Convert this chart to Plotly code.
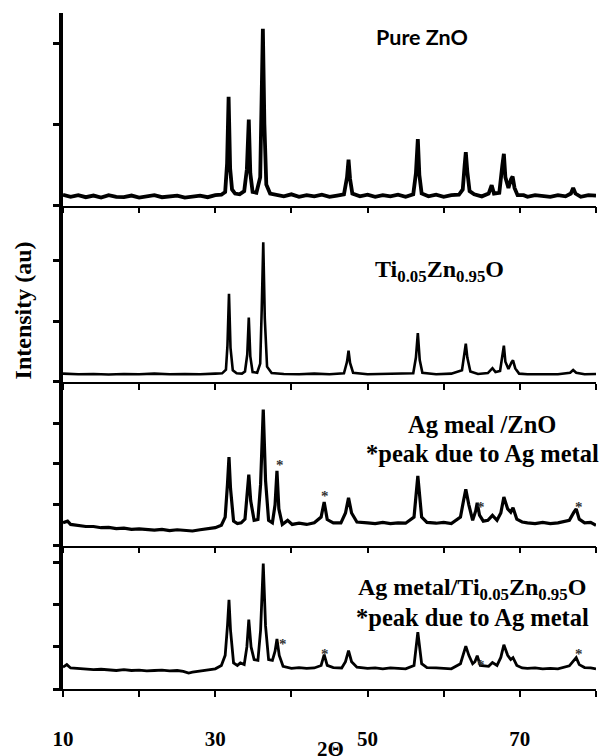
import plotly.graph_objects as go

# ---------------- data (2-theta, intensity in arbitrary units) ----------------
zno_2theta = [10, 11, 12, 13, 14, 15, 16, 17, 18, 19, 20, 21, 22, 23, 24, 25, 26, 27, 28, 29, 30,
              30.8, 31.3, 31.55, 31.75, 31.95, 32.2, 32.6, 33.2, 33.8, 34.15, 34.4, 34.6, 34.9,
              35.4, 35.9, 36.1, 36.25, 36.45, 36.7, 37.2, 38, 39, 40, 41, 42, 43, 44, 45, 46,
              46.9, 47.3, 47.5, 47.7, 48, 49, 50, 51, 52, 53, 54, 55, 56, 56.35, 56.6, 56.8, 57.1,
              58, 59, 60, 61, 62, 62.5, 62.75, 62.9, 63.1, 63.4, 64, 65, 65.9, 66.3, 66.6, 67.3,
              67.7, 67.9, 68.1, 68.5, 68.85, 69.05, 69.3, 69.7, 70.5, 71, 72, 73, 74, 75, 76,
              76.7, 77, 77.3, 78, 79, 80]
zno_int = [135, 110, 130, 105, 125, 100, 130, 110, 105, 125, 100, 120, 130, 105, 115, 125, 100, 115, 125, 105, 130,
           135, 170, 520, 1340, 460, 200, 150, 140, 180, 450, 1060, 400, 170,
           160, 350, 1200, 2180, 1000, 260, 150, 130, 115, 140, 110, 130, 115, 135, 110, 125,
           140, 350, 566, 330, 150, 115, 135, 110, 130, 115, 135, 110, 140, 400, 820, 380, 150,
           115, 135, 110, 130, 135, 200, 500, 660, 420, 180, 140, 115, 150, 253, 150, 160,
           500, 640, 350, 220, 330, 360, 220, 130, 130, 110, 130, 115, 110, 130, 115,
           150, 217, 150, 110, 130, 125]

tizno_2theta = [10, 12, 14, 16, 18, 20, 22, 24, 26, 28, 30, 30.9, 31.4, 31.6, 31.8, 32.0, 32.3, 32.8,
                33.5, 33.9, 34.2, 34.4, 34.6, 34.9, 35.5, 35.9, 36.1, 36.3, 36.5, 36.8, 37.4, 39,
                41, 43, 45, 46.9, 47.3, 47.5, 47.7, 48.1, 50, 52, 54, 56, 56.35, 56.6, 56.85, 57.2,
                59, 61, 62.4, 62.7, 62.9, 63.1, 63.5, 64.5, 65.8, 66.4, 66.8, 67.4, 67.7, 67.9, 68.1,
                68.5, 68.9, 69.1, 69.4, 69.9, 71, 73, 75, 76.6, 77.0, 77.4, 78.5, 80]
tizno_int = [135, 125, 130, 120, 130, 125, 135, 125, 130, 125, 135, 140, 200, 600, 1450, 560, 190, 140,
             135, 170, 450, 1060, 420, 160, 150, 300, 1200, 2300, 1050, 250, 145, 130,
             125, 135, 125, 140, 330, 515, 310, 150, 125, 130, 125, 140, 400, 805, 360, 150,
             125, 135, 190, 480, 630, 400, 170, 130, 145, 225, 160, 180, 470, 595, 330,
             210, 320, 355, 220, 135, 125, 130, 125, 150, 195, 150, 125, 130]

agzno_2theta = [10, 10.6, 11, 12, 13, 14, 15, 16, 17, 18, 19, 20, 21, 22, 23, 24, 25, 26, 27, 28, 29, 30,
                30.8, 31.3, 31.6, 31.8, 32.0, 32.4, 32.9, 33.4, 33.9, 34.2, 34.4, 34.65, 35.1, 35.6,
                35.95, 36.3, 36.6, 37.0, 37.5, 37.85, 38.1, 38.35, 38.8, 39.5, 40.1, 41, 42, 43,
                43.9, 44.3, 44.7, 45.5, 46.5, 47.1, 47.5, 47.9, 48.6, 50, 51, 52, 53, 54, 55, 56.1,
                56.6, 57.1, 57.8, 59, 60, 61, 62.2, 62.6, 62.9, 63.3, 63.8, 64.2, 64.4, 64.7, 65.2,
                65.8, 66.4, 67.0, 67.5, 67.9, 68.4, 68.8, 69.1, 69.6, 70.3, 71, 72, 73, 74, 75,
                76.5, 77.1, 77.4, 77.8, 78.5, 79.3, 80]
agzno_int = [560, 600, 520, 500, 470, 470, 440, 450, 420, 430, 400, 410, 390, 380, 400, 370, 390, 380, 360, 390, 420, 440,
             500, 700, 1500, 2170, 1400, 600, 540, 560, 650, 1200, 1740, 1100, 620, 640,
             1500, 3330, 1600, 620, 560, 1000, 1830, 900, 520, 620, 520, 550, 520, 560,
             700, 1070, 640, 560, 560, 800, 1170, 800, 580, 560, 540, 570, 540, 560, 550, 700,
             1710, 700, 570, 550, 570, 540, 700, 1100, 1380, 1000, 620, 850, 1050, 750, 600,
             620, 740, 620, 800, 1190, 900, 820, 930, 650, 580, 560, 540, 570, 540, 560,
             620, 820, 900, 650, 560, 570, 500]

agtizno_2theta = [10, 10.5, 11, 12, 13, 14, 15, 16, 17, 18, 19, 20, 21, 22, 23, 24, 25, 25.8, 26.5, 27, 28, 29, 30,
                  30.8, 31.3, 31.6, 31.8, 32.0, 32.4, 32.9, 33.3, 33.8, 34.15, 34.4, 34.7, 35.1, 35.6,
                  35.95, 36.3, 36.6, 37.0, 37.5, 37.85, 38.1, 38.4, 38.9, 40, 41, 42, 43, 43.9,
                  44.3, 44.7, 45.5, 46.6, 47.1, 47.5, 47.9, 48.6, 50, 51, 52, 53, 54, 55, 56.1,
                  56.6, 57.1, 57.8, 59, 60, 61, 62.2, 62.6, 62.9, 63.3, 63.8, 64.1, 64.4, 64.8,
                  65.4, 65.9, 66.4, 67.0, 67.5, 67.9, 68.4, 68.8, 69.1, 69.6, 70.3, 71, 72, 73,
                  74, 75, 76.5, 77.1, 77.4, 77.8, 78.5, 79.3, 80]
agtizno_int = [520, 580, 500, 490, 470, 460, 470, 450, 440, 460, 440, 450, 430, 440, 450, 430, 440, 420, 380, 400, 430, 460, 480,
               560, 800, 1500, 2120, 1400, 620, 560, 620, 580, 1000, 1650, 1000, 700, 680,
               1400, 2980, 1500, 700, 680, 900, 1190, 800, 540, 490, 510, 490, 500, 560,
               815, 560, 510, 500, 650, 910, 650, 520, 490, 500, 480, 500, 490, 480, 560,
               1350, 600, 510, 500, 490, 480, 600, 850, 1020, 800, 600, 650, 790, 560,
               550, 540, 630, 560, 750, 1050, 800, 700, 745, 560, 500, 490, 500, 480,
               490, 480, 550, 700, 745, 580, 510, 500, 480]

panel_x = [zno_2theta, tizno_2theta, agzno_2theta, agtizno_2theta]
panel_y = [zno_int, tizno_int, agzno_int, agtizno_int]

y_ranges = [2373, 2903, 4012, 3407]
y_tickvals = [[0, 1000, 2000], [0, 1000, 2000], [0, 1000, 2000, 3000], [0, 1000, 2000, 3000]]

x_tickvals = [10, 20, 30, 40, 50, 60, 70, 80]
x_ticktext = ["<b>10</b>", "", "<b>30</b>", "", "<b>50</b>", "", "<b>70</b>", ""]

# asterisk markers (Ag metal peaks) per panel: (2theta, intensity)
ag_star_x_p3 = [38.5, 44.4, 64.9, 77.8]
ag_star_y_p3 = [2260, 1500, 1240, 1240]
ag_star_x_p4 = [38.9, 44.4, 64.9, 77.8]
ag_star_y_p4 = [1420, 1190, 930, 1190]

# ---------------- layout geometry ----------------
W, H = 601, 756
ML, MR, MT, MB = 63, 5, 13, 52
PW, PH = W - ML - MR, H - MT - MB


def px_x(px):
    return (px - ML) / PW


def px_y(py):
    return (H - MB - py) / PH


domains = [[px_y(210), 1.0], [px_y(390), px_y(210)], [px_y(557.5), px_y(390)], [0.0, px_y(557.5)]]
line_widths = [3.8, 2.6, 3.2, 2.8]

fig = go.Figure()
for i in range(4):
    sfx = "" if i == 0 else str(i + 1)
    fig.add_trace(go.Scatter(x=panel_x[i], y=panel_y[i], mode="lines",
                             line=dict(color="black", width=line_widths[i]),
                             xaxis="x" + sfx, yaxis="y" + sfx, showlegend=False,
                             hoverinfo="skip"))

serif = "Liberation Serif, Times New Roman, serif"

layout = dict(width=W, height=H, margin=dict(l=ML, r=MR, t=MT, b=MB),
              plot_bgcolor="white", paper_bgcolor="white", showlegend=False)
for i in range(4):
    sfx = "" if i == 0 else str(i + 1)
    layout["xaxis" + sfx] = dict(
        range=[10, 80], anchor="y" + sfx, domain=[0, 1],
        showline=True, linecolor="black", linewidth=1.5,
        ticks="outside", ticklen=6, tickwidth=1.5, tickcolor="black",
        tickvals=x_tickvals, ticktext=x_ticktext,
        showticklabels=(i == 3), ticklabelstandoff=24,
        tickfont=dict(family=serif, size=21, color="black"),
        showgrid=False, zeroline=False)
    layout["yaxis" + sfx] = dict(
        range=[0, y_ranges[i]], anchor="x" + sfx, domain=domains[i],
        showline=True, linecolor="black", linewidth=3.5,
        ticks="outside", ticklen=6, tickwidth=2.5, tickcolor="black",
        tickvals=y_tickvals[i], showticklabels=False,
        showgrid=False, zeroline=False)
fig.update_layout(**layout)


def label(text, px, py, family, size, angle=0):
    return dict(text=text, x=px_x(px), y=px_y(py), xref="paper", yref="paper",
                xanchor="center", yanchor="middle", textangle=angle, showarrow=False,
                font=dict(family=family, size=size, color="black"))


ann = [
    label("<b>Pure ZnO</b>", 422, 38, "Lato", 21.5),
    label("<b>Ti<sub>0.05</sub>Zn<sub>0.95</sub>O</b>", 439, 277, serif, 24),
    label("<b>Ag meal /ZnO</b>", 482, 434, serif, 24.5),
    label("<b>*peak due to Ag metal</b>", 482, 463, serif, 24.5),
    label("<b>Ag metal/Ti<sub>0.05</sub>Zn<sub>0.95</sub>O</b>", 472, 602, serif, 24),
    label("<b>*peak due to Ag metal</b>", 472, 631, serif, 24.5),
    label("<b>Intensity (au)</b>", 23, 317, serif, 24, -90),
    label("<b>2Θ</b>", 330, 765, serif, 21),
]

for xs, ys, ax, shift in [(ag_star_x_p3, ag_star_y_p3, "3", -12), (ag_star_x_p4, ag_star_y_p4, "4", -15)]:
    for xv, yv in zip(xs, ys):
        ann.append(dict(text="<b>*</b>", x=xv, y=yv, xref="x" + ax, yref="y" + ax,
                        showarrow=False, xanchor="center", yanchor="middle", yshift=shift,
                        font=dict(family=serif, size=15, color="#333333")))

fig.update_layout(annotations=ann)
fig.write_html("out.html")
